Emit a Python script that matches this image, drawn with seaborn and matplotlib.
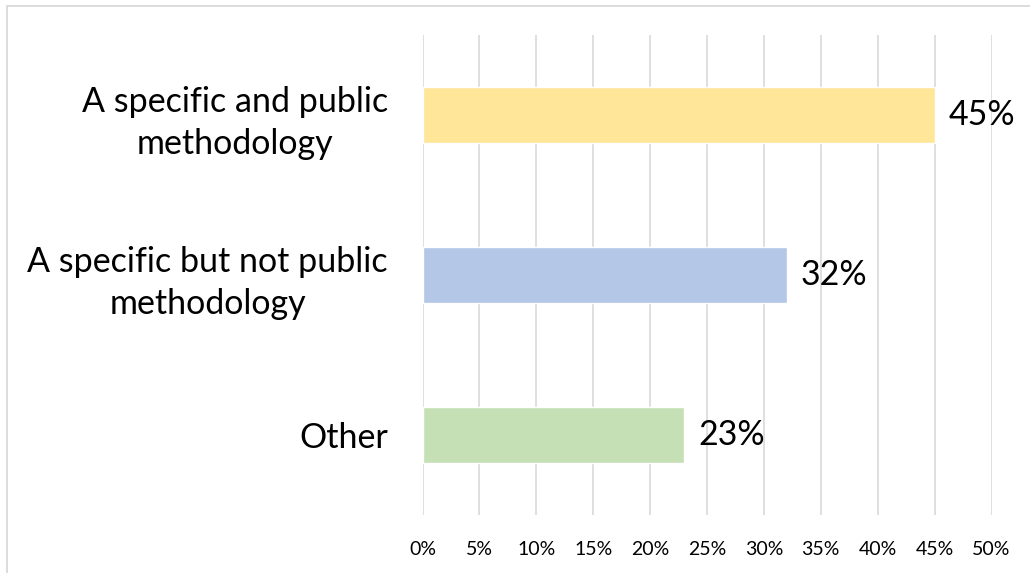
import matplotlib
matplotlib.use("Agg")
import matplotlib.pyplot as plt
from matplotlib.patches import Rectangle
from matplotlib.ticker import MultipleLocator, FuncFormatter
import seaborn as sns
import pandas as pd

categories = ["A specific and public\nmethodology",
              "A specific but not public\nmethodology",
              "Other"]
shares = [45, 32, 23]
colors = ["#FFE699", "#B4C7E7", "#C5E0B4"]

sns.set_theme(style="white")
plt.rcParams["font.family"] = ["Lato", "DejaVu Sans"]

W, H = 1030, 573
fig = plt.figure(figsize=(W / 100, H / 100), dpi=100)
ax = fig.add_axes([422.5 / W, 58 / H, 569 / W, 480 / H])

df = pd.DataFrame({"category": categories, "share": shares})
sns.barplot(data=df, x="share", y="category", hue="category",
            palette=colors, orient="h", width=0.35, ax=ax,
            legend=False, saturation=1, zorder=3)

ax.set_xlim(0, 50)
ax.set_ylim(2.5, -0.5)
ax.xaxis.set_major_locator(MultipleLocator(5))
ax.xaxis.set_major_formatter(FuncFormatter(lambda v, p: f"{v:.0f}%"))
ax.grid(axis="x", color="#D9D9D9", linewidth=1.2, zorder=0)
ax.grid(axis="y", visible=False)
for s in ax.spines.values():
    s.set_visible(False)
ax.set_xlabel("")
ax.set_ylabel("")
ax.tick_params(axis="x", length=0, pad=19, labelsize=14, labelcolor="#000000")
ax.tick_params(axis="y", length=0, pad=25, labelsize=24.5, labelcolor="#000000")
for lbl in ax.get_yticklabels():
    lbl.set_multialignment("center")
    lbl.set_linespacing(1.38)

for i, v in enumerate(shares):
    ax.text(v + 1.2, i, f"{v}%", va="center", ha="left",
            fontsize=24.5, color="#000000")

fig.patches.append(Rectangle((6.5 / W, -0.1), 1.2, (H - 6.5) / H + 0.1,
                             transform=fig.transFigure, fill=False,
                             edgecolor="#D9D9D9", linewidth=1.3))

fig.savefig("out.png", dpi=100, facecolor="white")
